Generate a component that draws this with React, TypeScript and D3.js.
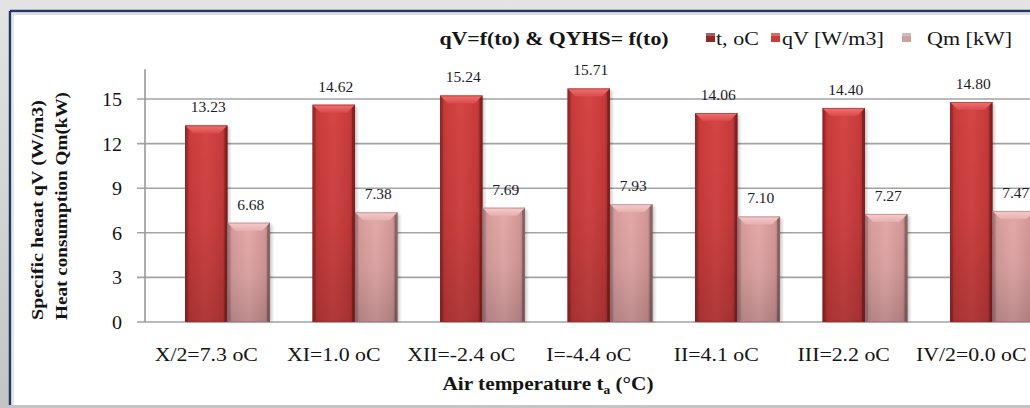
import React from "react";
import * as d3 from "d3";

const categories = ["X/2=7.3 oC", "XI=1.0 oC", "XII=-2.4 oC", "I=-4.4 oC", "II=4.1 oC", "III=2.2 oC", "IV/2=0.0 oC"];
const seriesKeys = ["t", "qV", "Qm"];
const seriesNames = ["t, oC", "qV [W/m3]", "Qm [kW]"];
const tValues: (number | null)[] = [null, null, null, null, null, null, null];
const qVValues = [13.23, 14.62, 15.24, 15.71, 14.06, 14.4, 14.8];
const qmValues = [6.68, 7.38, 7.69, 7.93, 7.1, 7.27, 7.47];
const yTicks = [0, 3, 6, 9, 12, 15];
const titleText = "qV=f(to) & QYHS= f(to)";
const yTitle1 = "Specific heaat qV (W/m3)";
const yTitle2 = "Heat consumption Qm(kW)";

const W = 1030;
const H = 408;
const FONT = "'Liberation Serif', 'Times New Roman', serif";

const x = d3.scaleBand<string>().domain(categories).range([142.5, 142.5 + 127.5 * 7]).padding(0);
const xs = d3.scaleBand<string>().domain(seriesKeys).range([0, x.bandwidth()]).padding(0);
const y = d3.scaleLinear().domain([0, 17]).range([322, 69.3]);

function T({ x: tx, y: ty, sx = 1, anchor = "middle", size, bold = false, children, fill = "#141414" }: any) {
  return (
    <text
      transform={`translate(${tx},${ty}) scale(${sx},1)`}
      textAnchor={anchor}
      fontFamily={FONT}
      fontSize={size}
      fontWeight={bold ? "bold" : "normal"}
      fill={fill}
    >
      {children}
    </text>
  );
}

function Bar({ bx, bw, value, kind }: any) {
  const top = y(value);
  const base = y(0);
  const h = base - top;
  const b = 8;
  const body = kind === "qV" ? "url(#redBody)" : "url(#pinkBody)";
  const bevel = kind === "qV" ? "url(#redBevel)" : "url(#pinkBevel)";
  const edge = kind === "qV" ? "#8e2222" : "#967070";
  return (
    <g>
      <rect x={bx + 2} y={top + 2} width={bw} height={h - 2} fill="rgba(0,0,0,0.22)" filter="url(#blur)" />
      <rect x={bx} y={top} width={bw} height={h} fill={body} />
      <rect x={bx} y={top} width={bw} height={h} fill="url(#vShade)" />
      <polygon
        points={`${bx},${top} ${bx + bw},${top} ${bx + bw - b},${top + b} ${bx + b},${top + b}`}
        fill={bevel}
      />
      <polygon points={`${bx},${top} ${bx + 3},${top + 3} ${bx + 3},${base} ${bx},${base}`} fill="rgba(0,0,0,0.12)" />
      <polygon points={`${bx + bw},${top} ${bx + bw - 3},${top + 3} ${bx + bw - 3},${base} ${bx + bw},${base}`} fill="rgba(0,0,0,0.2)" />
      <rect x={bx + 0.5} y={top + 0.5} width={bw - 1} height={h - 1} fill="none" stroke={edge} strokeOpacity={0.5} strokeWidth={1} />
    </g>
  );
}

export default function App() {
  const series: Record<string, (number | null)[]> = { t: tValues, qV: qVValues, Qm: qmValues };
  const legendItems = [
    { sq: 706, tx: 716, color: "#8c2a2a", label: seriesNames[0] },
    { sq: 771, tx: 782, color: "#c83c3c", label: seriesNames[1] },
    { sq: 902, tx: 927, color: "#c9a2a2", label: seriesNames[2] },
  ];
  return (
    <svg width={W} height={H} style={{ position: "absolute", left: 0, top: 0 }}>
      <defs>
        <linearGradient id="bgShade" x1="0" y1="0" x2="0" y2="1">
          <stop offset="0" stopColor="#e4e4e4" />
          <stop offset="1" stopColor="#c4c4c4" />
        </linearGradient>
        <linearGradient id="redBody" x1="0" y1="0" x2="1" y2="0">
          <stop offset="0" stopColor="#a82c2c" />
          <stop offset="0.12" stopColor="#c93b3b" />
          <stop offset="0.5" stopColor="#d54545" />
          <stop offset="0.88" stopColor="#c63a3a" />
          <stop offset="1" stopColor="#922424" />
        </linearGradient>
        <linearGradient id="pinkBody" x1="0" y1="0" x2="1" y2="0">
          <stop offset="0" stopColor="#b58585" />
          <stop offset="0.12" stopColor="#d79c9c" />
          <stop offset="0.5" stopColor="#e3a9a9" />
          <stop offset="0.88" stopColor="#d39797" />
          <stop offset="1" stopColor="#9a7272" />
        </linearGradient>
        <linearGradient id="vShade" x1="0" y1="0" x2="0" y2="1">
          <stop offset="0" stopColor="#000" stopOpacity="0" />
          <stop offset="0.5" stopColor="#000" stopOpacity="0.04" />
          <stop offset="1" stopColor="#000" stopOpacity="0.17" />
        </linearGradient>
        <linearGradient id="redBevel" x1="0" y1="0" x2="0" y2="1">
          <stop offset="0" stopColor="#f27272" />
          <stop offset="1" stopColor="#d84a4a" />
        </linearGradient>
        <linearGradient id="pinkBevel" x1="0" y1="0" x2="0" y2="1">
          <stop offset="0" stopColor="#f6cccc" />
          <stop offset="1" stopColor="#e6b0b0" />
        </linearGradient>
        <filter id="blur" x="-20%" y="-20%" width="140%" height="140%">
          <feGaussianBlur stdDeviation="1.5" />
        </filter>
      </defs>

      {/* frame */}
      <rect x={0} y={0} width={W} height={H} fill="url(#bgShade)" />
      <rect x={10} y={11} width={W} height={394} fill="#ffffff" />
      <line x1={10} y1={11} x2={W} y2={11} stroke="#1f3864" strokeWidth={2.5} />
      <line x1={10} y1={11} x2={10} y2={405} stroke="#1f3864" strokeWidth={2.5} />
      <line x1={12.5} y1={14} x2={W} y2={14} stroke="#b8c0cc" strokeWidth={1} />
      <line x1={13} y1={14} x2={13} y2={405} stroke="#c8ccd4" strokeWidth={1} />

      {/* gridlines */}
      {yTicks.map((t) => (
        <line key={t} x1={137} x2={W} y1={y(t)} y2={y(t)} stroke="#a3a3a3" strokeWidth={1.6} />
      ))}
      <line x1={145} x2={145} y1={y(17)} y2={y(0)} stroke="#999" strokeWidth={1.6} />

      {/* y tick labels */}
      {yTicks.map((t) => (
        <T key={t} x={122} y={y(t) + 7} anchor="end" size={19} sx={1.06}>
          {t}
        </T>
      ))}

      {/* bars */}
      {categories.map((c, i) =>
        seriesKeys.map((k) => {
          const v = series[k][i];
          if (v == null || k === "t") return null;
          const bx = (x(c) as number) + (xs(k) as number);
          return <Bar key={c + k} bx={bx} bw={xs.bandwidth()} value={v} kind={k} />;
        })
      )}

      {/* value labels */}
      {categories.map((c, i) =>
        seriesKeys.map((k) => {
          const v = series[k][i];
          if (v == null) return null;
          const cx = (x(c) as number) + (xs(k) as number) + xs.bandwidth() / 2 + 2;
          return (
            <T key={"l" + c + k} x={cx} y={y(v) - 13} size={15.5} fill="#1a1a2a">
              {v.toFixed(2)}
            </T>
          );
        })
      )}

      {/* x tick labels */}
      {categories.map((c) => (
        <T key={"x" + c} x={(x(c) as number) + (xs("qV") as number) + xs.bandwidth() / 2} y={361} size={19.5} sx={1.12}>
          {c}
        </T>
      ))}

      {/* x title */}
      <text
        transform={`translate(548,390) scale(1.12,1)`}
        textAnchor="middle"
        fontFamily={FONT}
        fontSize={19}
        fontWeight="bold"
        fill="#141414"
      >
        Air temperature t<tspan fontSize={12} dy={4}>a</tspan>
        <tspan dy={-4}> (°C)</tspan>
      </text>

      {/* y title */}
      <text
        transform={`translate(37,210) rotate(-90)`}
        textAnchor="middle"
        dominantBaseline="central"
        fontFamily={FONT}
        fontSize={17}
        fontWeight="bold"
        fill="#141414"
        textLength={220}
        lengthAdjust="spacingAndGlyphs"
      >
        {yTitle1}
      </text>
      <text
        transform={`translate(61,206) rotate(-90)`}
        textAnchor="middle"
        dominantBaseline="central"
        fontFamily={FONT}
        fontSize={17}
        fontWeight="bold"
        fill="#141414"
        textLength={228}
        lengthAdjust="spacingAndGlyphs"
      >
        {yTitle2}
      </text>

      {/* title */}
      <T x={554} y={45} size={19.5} sx={1.12} bold>
        {titleText}
      </T>

      {/* legend */}
      {legendItems.map((d) => (
        <g key={d.label}>
          <rect x={d.sq} y={33} width={9} height={9} fill={d.color} />
          <rect x={d.sq} y={33} width={9} height={3} fill="rgba(255,255,255,0.25)" />
          <T x={d.tx} y={45} anchor="start" size={19.5} sx={1.13}>
            {d.label}
          </T>
        </g>
      ))}
    </svg>
  );
}
